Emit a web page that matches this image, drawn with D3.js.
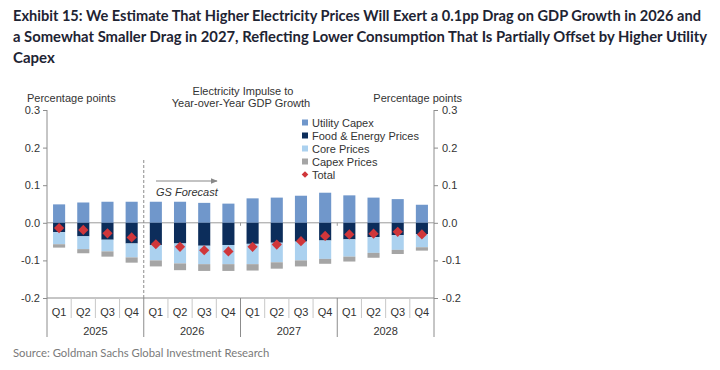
<!DOCTYPE html>
<html>
<head>
<meta charset="utf-8">
<script src="https://cdn.jsdelivr.net/npm/d3@7"></script>
<style>
  body { margin: 0; background: #fff; }
  svg { display: block; }
</style>
</head>
<body>
<svg id="chart" width="720" height="370"></svg>
<script>
// --- data ---
const years = ["2025", "2026", "2027", "2028"];
const quarters = ["Q1", "Q2", "Q3", "Q4"];
const utilityCapex = [0.049, 0.054, 0.056, 0.056, 0.056, 0.056, 0.053, 0.051, 0.065, 0.067, 0.072, 0.080, 0.073, 0.067, 0.063, 0.048];
const foodEnergy = [-0.025, -0.036, -0.045, -0.055, -0.059, -0.055, -0.061, -0.059, -0.056, -0.053, -0.050, -0.047, -0.044, -0.038, -0.033, -0.030];
const corePrices = [-0.032, -0.034, -0.031, -0.037, -0.041, -0.053, -0.049, -0.051, -0.054, -0.052, -0.050, -0.049, -0.046, -0.042, -0.039, -0.035];
const capexPrices = [-0.009, -0.011, -0.014, -0.014, -0.016, -0.018, -0.018, -0.018, -0.017, -0.017, -0.016, -0.013, -0.013, -0.013, -0.011, -0.009];
const total = [-0.014, -0.019, -0.028, -0.039, -0.057, -0.064, -0.073, -0.076, -0.064, -0.058, -0.049, -0.035, -0.031, -0.029, -0.024, -0.031];
const yTicks = [-0.2, -0.1, 0.0, 0.1, 0.2, 0.3];

const seriesKeys = ["Utility Capex", "Food & Energy Prices", "Core Prices", "Capex Prices"];
const seriesColor = {
    "Utility Capex": "#7097cb",
    "Food & Energy Prices": "#0c2d5b",
    "Core Prices": "#abd1ef",
    "Capex Prices": "#a5a5a5",
};
const TOTAL_COLOR = "#d0363a";
const FONT = "'Liberation Sans', Arial, sans-serif";
const TEXT = "#333";

const rows = utilityCapex.map((v, i) => ({
    i,
    "Utility Capex": v,
    "Food & Energy Prices": foodEnergy[i],
    "Core Prices": corePrices[i],
    "Capex Prices": capexPrices[i],
    total: total[i],
}));

const svg = d3.select("#chart");

// --- title ---
const titleLines = [
    "Exhibit 15: We Estimate That Higher Electricity Prices Will Exert a 0.1pp Drag on GDP Growth in 2026 and",
    "a Somewhat Smaller Drag in 2027, Reflecting Lower Consumption That Is Partially Offset by Higher Utility",
    "Capex",
];
const titleWidths = [688, 694, null];
svg.append("g")
    .selectAll("text")
    .data(titleLines)
    .join("text")
    .attr("x", 13)
    .attr("y", (d, i) => 21 + i * 21)
    .attr("font-family", "Lato, 'Open Sans', sans-serif")
    .attr("font-weight", "bold")
    .attr("font-size", 15)
    .attr("fill", "#1e2433")
    .text((d) => d)
    .each(function (d, i) {
        // shrink the glyph run to the width the reference title uses
        const el = d3.select(this);
        const w = this.getComputedTextLength();
        if (titleWidths[i] && w > titleWidths[i]) {
            el.attr("font-size", 15 * titleWidths[i] / w);
        }
        if (titleWidths[i]) {
            el.attr("textLength", titleWidths[i]).attr("lengthAdjust", "spacingAndGlyphs");
        }
    });

// --- scales ---
const x = d3.scaleBand().domain(d3.range(16)).range([47, 434]).paddingInner(0.5).paddingOuter(0.25);
const y = d3.scaleLinear().domain([-0.2, 0.3]).range([298, 110]);
const xEdge = (k) => 47 + k * ((434 - 47) / 16);

const fmt = d3.formatLocale({ decimal: ".", thousands: ",", grouping: [3], currency: ["", ""], minus: "-" }).format(".1f");

// --- axes ---
const leftAxis = svg.append("g")
    .attr("transform", "translate(47,0)")
    .call(d3.axisLeft(y).tickValues(yTicks).tickFormat(fmt).tickSize(4).tickPadding(3));
const rightAxis = svg.append("g")
    .attr("transform", "translate(434,0)")
    .call(d3.axisRight(y).tickValues(yTicks).tickFormat(fmt).tickSize(4).tickPadding(4));
[leftAxis, rightAxis].forEach((a) => {
    a.select(".domain").remove();
    a.selectAll(".tick line").attr("stroke", "#8c8c8c");
    a.selectAll(".tick text").attr("font-family", FONT).attr("font-size", 11).attr("fill", TEXT);
});
svg.append("line").attr("x1", 47).attr("x2", 47).attr("y1", y(0.3)).attr("y2", 337).attr("stroke", "#8c8c8c");
svg.append("line").attr("x1", 434).attr("x2", 434).attr("y1", y(0.3)).attr("y2", y(-0.2)).attr("stroke", "#8c8c8c");

// bottom axis line
svg.append("line").attr("x1", 47).attr("x2", 434).attr("y1", y(-0.2)).attr("y2", y(-0.2)).attr("stroke", "#8c8c8c");

// quarter separators + year separators
const sep = svg.append("g");
sep.selectAll("line.q")
    .data(d3.range(1, 16).filter((k) => k % 4 !== 0))
    .join("line")
    .attr("x1", (k) => xEdge(k)).attr("x2", (k) => xEdge(k))
    .attr("y1", y(-0.2)).attr("y2", 318)
    .attr("stroke", "#c8c8c8");
sep.selectAll("line.y")
    .data([4, 8, 12, 16])
    .join("line")
    .attr("x1", (k) => xEdge(k)).attr("x2", (k) => xEdge(k))
    .attr("y1", y(-0.2)).attr("y2", 337)
    .attr("stroke", "#8c8c8c");

svg.append("g")
    .selectAll("text")
    .data(d3.range(16))
    .join("text")
    .attr("x", (i) => x(i) + x.bandwidth() / 2)
    .attr("y", 316)
    .attr("text-anchor", "middle")
    .attr("font-family", FONT).attr("font-size", 11).attr("fill", TEXT)
    .text((i) => quarters[i % 4]);
svg.append("g")
    .selectAll("text")
    .data(years)
    .join("text")
    .attr("x", (d, j) => xEdge(j * 4 + 2))
    .attr("y", 335)
    .attr("text-anchor", "middle")
    .attr("font-family", FONT).attr("font-size", 11).attr("fill", TEXT)
    .text((d) => d);

// zero line
svg.append("line").attr("x1", 47).attr("x2", 434).attr("y1", y(0)).attr("y2", y(0)).attr("stroke", "#9a9a9a");
svg.append("g")
    .selectAll("line")
    .data([8, 12])
    .join("line")
    .attr("x1", (k) => xEdge(k)).attr("x2", (k) => xEdge(k))
    .attr("y1", y(0)).attr("y2", y(0) + 3)
    .attr("stroke", "#9a9a9a");

// forecast divider
svg.append("line")
    .attr("x1", xEdge(4)).attr("x2", xEdge(4))
    .attr("y1", 160).attr("y2", y(-0.2))
    .attr("stroke", "#8c8c8c").attr("stroke-dasharray", "3,2");

// --- bars ---
const stacked = d3.stack().keys(seriesKeys).offset(d3.stackOffsetDiverging)(rows);
svg.append("g")
    .selectAll("g")
    .data(stacked)
    .join("g")
    .attr("fill", (s) => seriesColor[s.key])
    .selectAll("rect")
    .data((s) => s)
    .join("rect")
    .attr("x", (d) => x(d.data.i))
    .attr("width", x.bandwidth())
    .attr("y", (d) => y(Math.max(d[0], d[1])))
    .attr("height", (d) => Math.abs(y(d[0]) - y(d[1])));

// total diamonds
svg.append("g")
    .selectAll("path")
    .data(rows)
    .join("path")
    .attr("d", d3.symbol(d3.symbolSquare, 52))
    .attr("transform", (d) => `translate(${x(d.i) + x.bandwidth() / 2},${y(d.total)}) rotate(45)`)
    .attr("fill", TOTAL_COLOR);

// --- annotations ---
const ann = svg.append("g").attr("font-family", FONT).attr("font-size", 11).attr("fill", TEXT);
ann.append("text").attr("x", 27).attr("y", 102).text("Percentage points");
ann.append("text").attr("x", 462).attr("y", 102).attr("text-anchor", "end").text("Percentage points");
ann.append("text").attr("x", 243).attr("y", 95).attr("text-anchor", "middle").text("Electricity Impulse to");
ann.append("text").attr("x", 241).attr("y", 107).attr("text-anchor", "middle").text("Year-over-Year  GDP Growth");

svg.append("defs").append("marker")
    .attr("id", "arrow")
    .attr("viewBox", "0 0 10 10")
    .attr("refX", 9).attr("refY", 5)
    .attr("markerWidth", 6).attr("markerHeight", 6)
    .attr("orient", "auto")
    .append("path").attr("d", "M0,1L10,5L0,9Z").attr("fill", "#888");
svg.append("line")
    .attr("x1", 156).attr("x2", 217).attr("y1", 181).attr("y2", 181)
    .attr("stroke", "#888").attr("stroke-width", 1.2)
    .attr("marker-end", "url(#arrow)");
ann.append("text").attr("x", 156).attr("y", 196).attr("font-style", "italic").text("GS Forecast");

// legend
const legendItems = [...seriesKeys, "Total"];
const legend = svg.append("g")
    .selectAll("g")
    .data(legendItems)
    .join("g")
    .attr("transform", (d, i) => `translate(305,${122.5 + i * 13})`);
legend.filter((d) => d !== "Total")
    .append("rect")
    .attr("x", -3).attr("y", -3).attr("width", 6).attr("height", 6)
    .attr("fill", (d) => seriesColor[d]);
legend.filter((d) => d === "Total")
    .append("path")
    .attr("d", d3.symbol(d3.symbolSquare, 22))
    .attr("transform", "rotate(45)")
    .attr("fill", TOTAL_COLOR);
legend.append("text")
    .attr("x", 7).attr("y", 4)
    .attr("font-family", FONT).attr("font-size", 11).attr("fill", TEXT)
    .text((d) => d);

// source
svg.append("text")
    .attr("x", 13).attr("y", 357)
    .attr("font-family", "Lato, 'Open Sans', sans-serif")
    .attr("font-size", 11.3)
    .attr("fill", "#7a7a7a")
    .text("Source: Goldman Sachs Global Investment Research");
</script>
</body>
</html>
